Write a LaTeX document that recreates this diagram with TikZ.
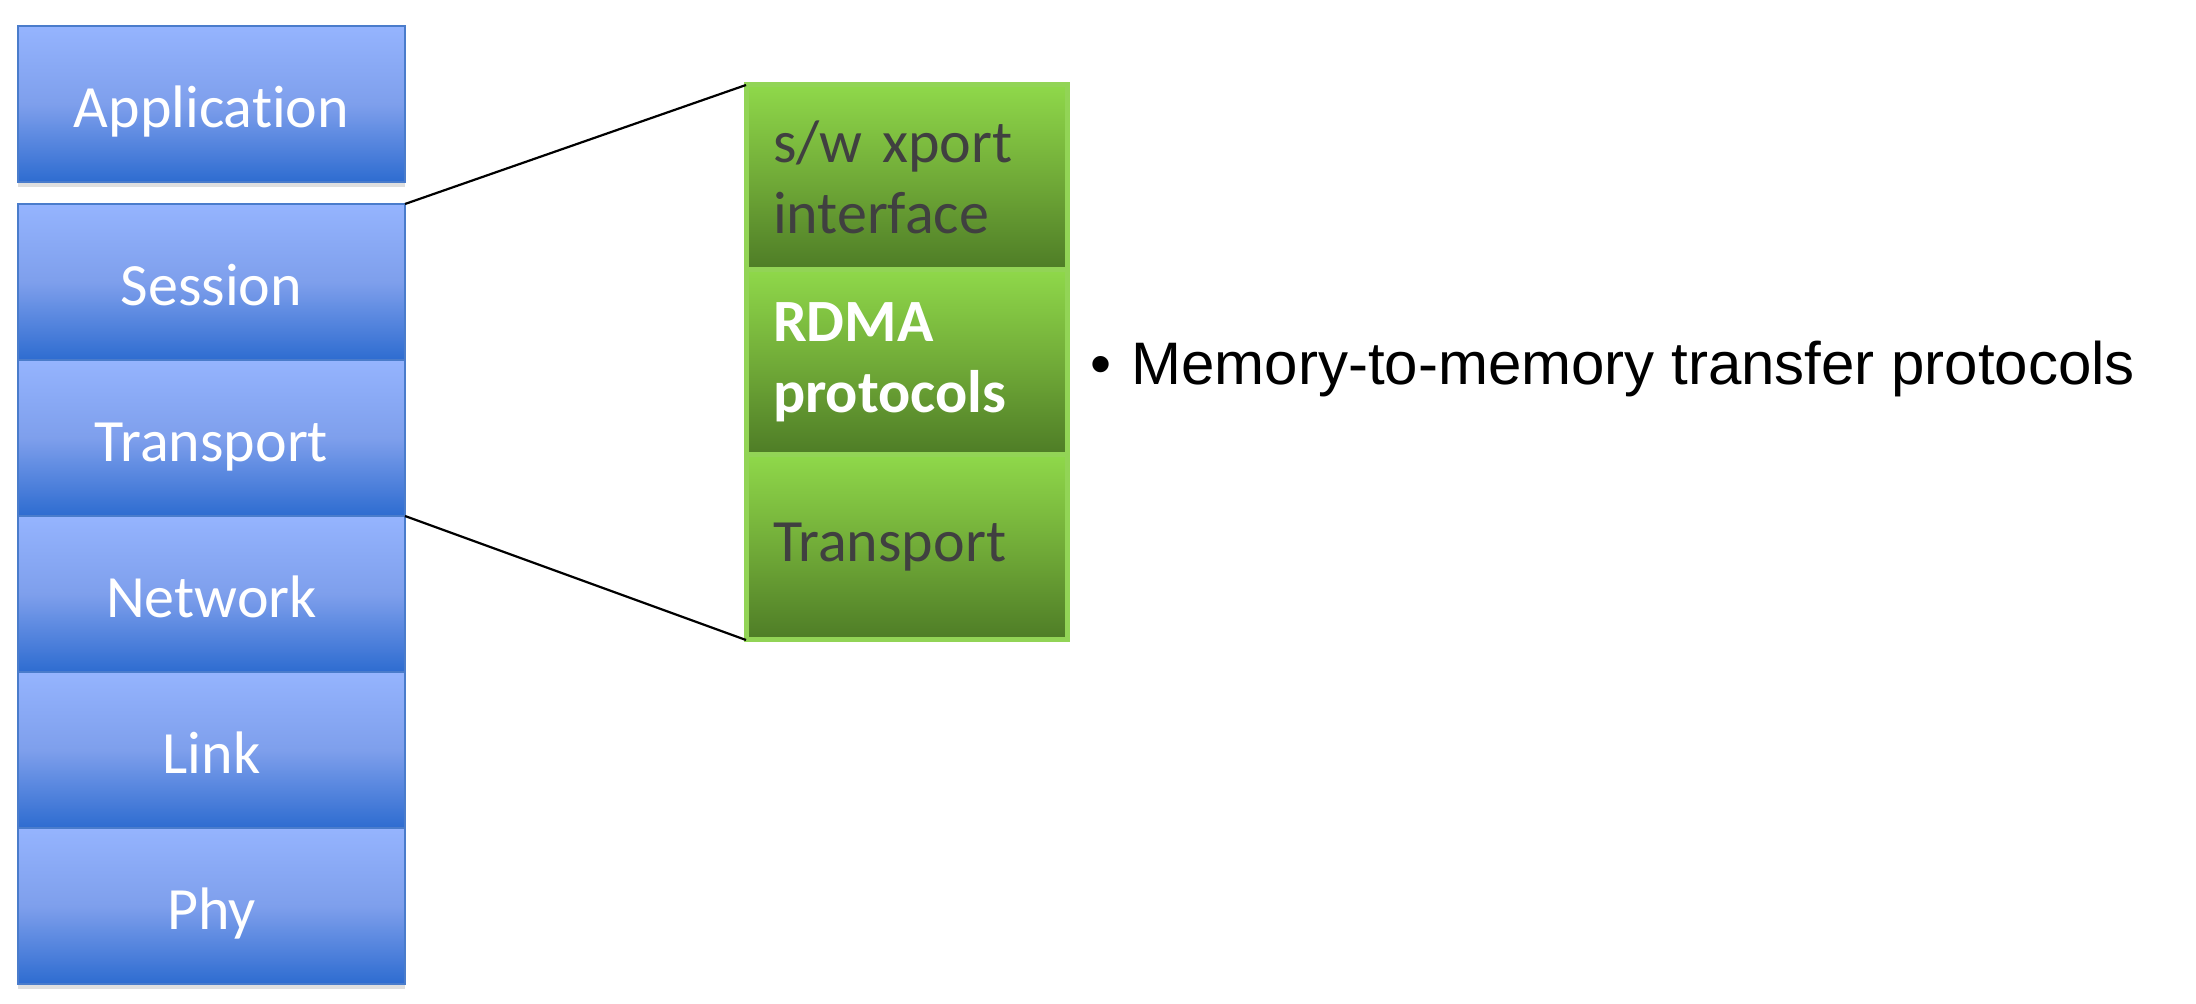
\documentclass[tikz,border=0pt]{standalone}
\usepackage{fontspec}
\setmainfont{Carlito}[Ligatures=NoCommon]
\newfontfamily\bulletfont{Liberation Sans}
\usepackage{xcolor}
\usetikzlibrary{positioning, shadows}
\definecolor{layerTop}{HTML}{95B4FE}
\definecolor{layerMid}{HTML}{7E9FEC}
\definecolor{layerBot}{HTML}{2E6CD0}
\definecolor{layerLine}{HTML}{4A7CCB}
\definecolor{xportTop}{HTML}{8FD84A}
\definecolor{xportMid}{HTML}{71AB38}
\definecolor{xportBot}{HTML}{4E7C26}
\definecolor{xportLine}{HTML}{92D456}
\definecolor{xportText}{HTML}{404040}
\tikzset{
    layer/.style={
        rectangle, draw=layerLine, line width=0.8pt,
        top color=layerTop, bottom color=layerBot, middle color=layerMid,
        minimum width=193.5pt, minimum height=78pt, outer sep=0pt,
        text height=26pt, text depth=2.6pt,
        text=white, font=\fontsize{30}{36}\selectfont,
        drop shadow={shadow xshift=0pt, shadow yshift=-2.5pt, opacity=0.25}
    },
    xport/.style={
        rectangle, draw=xportLine, line width=2.5pt,
        top color=xportTop, bottom color=xportBot, middle color=xportMid,
        minimum height=92.5pt, text width=133.5pt, inner xsep=13.5pt, outer sep=0pt,
        align=left, text=xportText, font=\fontsize{30}{35.5}\selectfont
    },
    zoomline/.style={draw=black, line width=1.1pt},
    bullet/.style={inner sep=0pt, anchor=west, font=\bulletfont\fontsize{30}{36}\selectfont}
}
\begin{document}
\begin{tikzpicture}
    \useasboundingbox (0,0) rectangle (1098pt,-502pt);

    % Protocol stack
    \node[layer, anchor=north west] (App) at (9pt,-13pt) {Application};
    \node[layer, below=11pt of App] (Session) {Session};
    \node[layer, below=0pt of Session] (Transport) {Transport};
    \node[layer, below=0pt of Transport] (Network) {Network};
    \node[layer, below=0pt of Network] (Link) {Link};
    \node[layer, below=0pt of Link] (Phy) {Phy};

    % Zoomed-in layers
    \node[xport, anchor=north west] (SwXport) at (373pt,-42.5pt) {s/w xport\\interface};
    \node[xport, below=0pt of SwXport, text=white, font=\bfseries\fontsize{30}{35.5}\selectfont] (Rdma) {RDMA\\protocols};
    \node[xport, below=0pt of Rdma] (XTransport) {Transport};

    % Zoom lines
    \draw[zoomline] (Session.north east) -- (SwXport.north west);
    \draw[zoomline] (Network.north east) -- (XTransport.south west);

    % Note
    \node[bullet, right=11.5pt of Rdma, yshift=-3pt] (Note) {•\hspace{10pt}Memory-to-memory transfer protocols};
\end{tikzpicture}
\end{document}
